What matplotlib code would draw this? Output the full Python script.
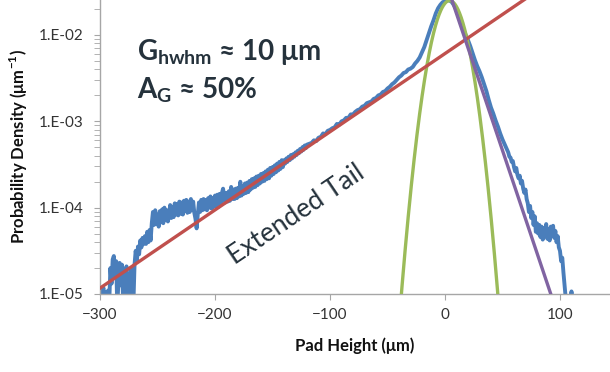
import numpy as np
import matplotlib

matplotlib.use("Agg")
import matplotlib.pyplot as plt
from matplotlib.ticker import FixedLocator, FuncFormatter, LogLocator, NullFormatter

plt.rcParams["font.family"] = ["Lato", "DejaVu Sans"]
plt.rcParams["mathtext.fontset"] = "custom"
plt.rcParams["mathtext.rm"] = "Lato"
plt.rcParams["mathtext.bf"] = "Lato:bold"

# measured distribution, log10 of probability density (um^-1), three sampling segments
tail_x = np.arange(-300, -119, 1)
tail_log = [
    -5.00, -5.05, -4.97, -4.93, -5.08, -4.98, -5.12, -4.96, -5.10, -4.70,
    -4.88, -4.60, -4.56, -4.78, -4.62, -5.15, -4.85, -4.64, -4.90, -4.66,
    -5.05, -5.15, -4.75, -4.68, -5.02, -5.15, -4.82, -4.70, -4.95, -5.12,
    -4.66, -4.50, -4.62, -4.45, -4.54, -4.38, -4.46, -4.35, -4.42, -4.33,
    -4.42, -4.28, -4.40, -4.26, -4.38, -4.18, -4.05, -4.20, -4.03, -4.19,
    -4.08, -4.22, -4.04, -4.17, -4.02, -4.18, -4.00, -4.14, -4.03, -4.16,
    -4.08, -3.97, -4.12, -3.99, -4.11, -3.95, -4.08, -3.96, -4.09, -3.93,
    -4.07, -3.94, -4.08, -3.92, -4.04, -3.91, -4.06, -3.93, -4.05, -3.90,
    -4.03, -3.93, -4.06, -4.13, -4.24, -4.08, -3.94, -4.05, -3.91, -4.03,
    -3.90, -4.02, -3.91, -4.03, -3.89, -4.00, -3.87, -4.01, -3.89, -3.99,
    -3.86, -3.98, -3.85, -3.99, -3.84, -3.96, -3.83, -3.78, -3.88, -3.94,
    -3.83, -3.93, -3.81, -3.92, -3.76, -3.90, -3.79, -3.90, -3.78, -3.89,
    -3.77, -3.87, -3.70, -3.86, -3.75, -3.84, -3.72, -3.83, -3.71, -3.82,
    -3.69, -3.79, -3.67, -3.77, -3.66, -3.76, -3.64, -3.74, -3.63, -3.72,
    -3.61, -3.70, -3.60, -3.69, -3.58, -3.67, -3.56, -3.66, -3.54, -3.63,
    -3.53, -3.61, -3.51, -3.59, -3.49, -3.57, -3.47, -3.55, -3.45, -3.53,
    -3.45, -3.49, -3.43, -3.47, -3.41, -3.45, -3.39, -3.43, -3.38, -3.41,
    -3.36, -3.39, -3.34, -3.37, -3.32, -3.35, -3.30, -3.33, -3.28, -3.31,
    -3.27,
]
core_x = np.arange(-118, 55, 2)
core_log = [
    -3.26, -3.25, -3.22, -3.23, -3.19, -3.18, -3.14, -3.15, -3.11, -3.10,
    -3.08, -3.07, -3.03, -3.04, -3.00, -2.99, -2.96, -2.96, -2.92, -2.92,
    -2.89, -2.87, -2.86, -2.83, -2.82, -2.79, -2.78, -2.77, -2.74, -2.73,
    -2.70, -2.69, -2.66, -2.65, -2.62, -2.60, -2.57, -2.55, -2.52, -2.49,
    -2.47, -2.44, -2.43, -2.40, -2.39, -2.37, -2.33, -2.30, -2.26, -2.20,
    -2.14, -2.06, -1.98, -1.90, -1.83, -1.75, -1.69, -1.65, -1.62, -1.61,
    -1.60, -1.60, -1.62, -1.66, -1.71, -1.79, -1.87, -1.94, -2.00, -2.06,
    -2.13, -2.21, -2.29, -2.36, -2.42, -2.49, -2.57, -2.65, -2.75, -2.84,
    -2.91, -2.99, -3.06, -3.14, -3.21, -3.27, -3.33,
]
high_x = np.arange(55, 112, 1)
high_log = [
    -3.36, -3.41, -3.42, -3.47, -3.46, -3.53, -3.58, -3.54, -3.62, -3.66,
    -3.63, -3.72, -3.69, -3.78, -3.83, -3.79, -3.90, -3.95, -4.05, -3.98,
    -4.12, -4.05, -4.20, -4.10, -4.28, -4.18, -4.30, -4.20, -4.34, -4.22,
    -4.37, -4.24, -4.32, -4.19, -4.36, -4.25, -4.38, -4.22, -4.30, -4.21,
    -4.35, -4.27, -4.40, -4.33, -4.46, -4.50, -4.62, -4.58, -4.75, -4.90,
    -5.05, -5.15, np.nan, np.nan, -5.10, -4.97, -5.10,
]

# exponential tail fit, drawn through its two end points
fit_tail_x = [-300, 100]
fit_tail_y = [1.17e-5, 4.9e-2]

# Gaussian core fit
gauss_center = 4.0
gauss_sigma = 10.6
gauss_peak = 2.5e-2

# right-hand fall-off fit
fall_x = [0, 96]
fall_y = [4.4e-2, 6.94e-6]

x_ticks = [-300, -200, -100, 0, 100]
y_ticks = [1e-5, 1e-4, 1e-3, 1e-2]

pad_height = np.concatenate([tail_x, core_x, high_x])
density = 10.0 ** np.concatenate([tail_log, core_log, high_log])

fig = plt.figure(figsize=(6.1, 3.72), dpi=100)
ax = fig.add_axes([0.164, 0.2097, 0.836, 0.7903])

ax.plot(pad_height, density, color="#4a7ebb", lw=2.8, zorder=2)

gx = np.linspace(gauss_center - 60, gauss_center + 60, 400)
gy = gauss_peak * np.exp(-0.5 * ((gx - gauss_center) / gauss_sigma) ** 2)
ax.plot(gx, gy, color="#9bbb59", lw=2.4, zorder=3)
ax.plot(fit_tail_x, fit_tail_y, color="#c0504d", lw=2.4, zorder=4)
ax.plot(fall_x, fall_y, color="#8064a2", lw=2.4, zorder=5)

ax.set_yscale("log")
ax.set_xlim(-300, 143.5)
ax.set_ylim(1e-5, 10 ** -1.595)

ax.xaxis.set_major_locator(FixedLocator(x_ticks))
ax.yaxis.set_major_locator(FixedLocator(y_ticks))
ax.yaxis.set_major_formatter(FuncFormatter(lambda v, _: f"1.E-{round(-np.log10(v)):02d}"))
ax.yaxis.set_minor_locator(LogLocator(base=10, subs=np.arange(2, 10)))
ax.yaxis.set_minor_formatter(NullFormatter())

for side in ("top", "right"):
    ax.spines[side].set_visible(False)
for side in ("left", "bottom"):
    ax.spines[side].set_color("#a6a6a6")
    ax.spines[side].set_linewidth(1.0)

ax.tick_params(axis="both", which="both", direction="out", length=4,
               color="#a6a6a6", labelcolor="#333333", labelsize=11)
ax.tick_params(axis="y", which="both", pad=8)
ax.tick_params(axis="x", pad=6)

ax.set_xlabel("Pad Height (μm)", fontsize=12, fontweight="bold", color="#111111", labelpad=11)
ax.set_ylabel(r"Probability Density (μm$^{\mathbf{-1}}$)", fontsize=12,
              fontweight="bold", color="#111111", labelpad=6)

note_color = "#25323c"
fig.text(137 / 610, 1 - 60 / 372, r"G$_{\mathbf{hwhm}}$ ≈ 10 μm", fontsize=20,
         fontweight="bold", color=note_color, ha="left", va="baseline")
fig.text(137 / 610, 1 - 98 / 372, r"A$_{\mathbf{G}}$ ≈ 50%", fontsize=20,
         fontweight="bold", color=note_color, ha="left", va="baseline")

ax.text(-129.5, 8.4e-5, "Extended Tail", fontsize=19, color=note_color,
        rotation=34, rotation_mode="anchor", ha="center", va="center")

fig.savefig("out.png", dpi=100)
